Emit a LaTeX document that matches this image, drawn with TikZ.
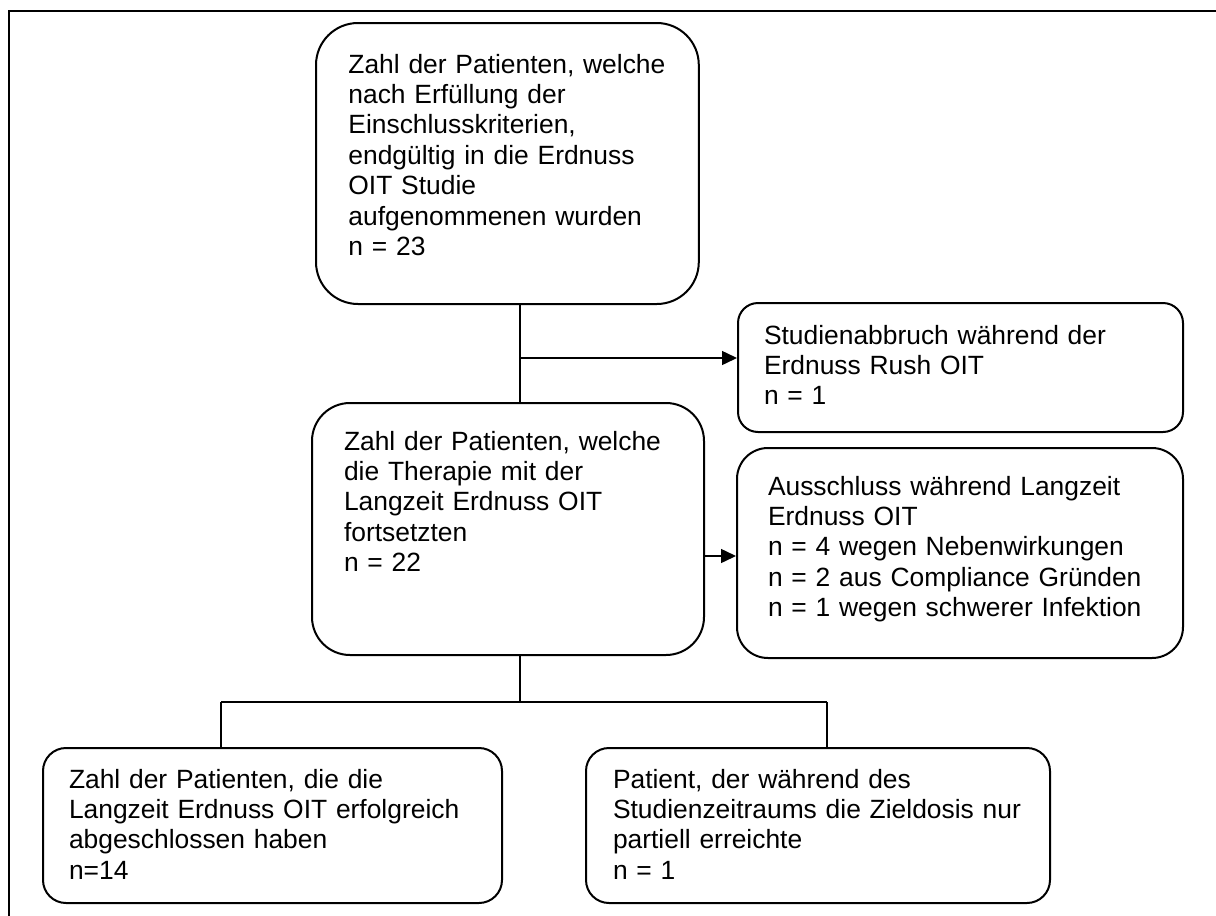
\documentclass[tikz,border=0pt]{standalone}
\usepackage{fontspec}
\setmainfont{Liberation Sans}
\usepackage{tikz}
\usetikzlibrary{arrows.meta, calc}
\tikzstyle{patbox} = [rectangle, draw, line width=1pt, align=left,
    inner ysep=0pt, anchor=north west, font=\fontsize{13.2}{15.2}\selectfont]
\tikzstyle{link} = [draw, line width=0.75pt]
\tikzstyle{arrowline} = [draw, line width=0.75pt, -{Triangle[length=7.5pt, width=7pt]}]

\begin{document}
\begin{tikzpicture}[x=0.5pt, y=-0.5pt]
    \useasboundingbox (0,0) rectangle (1216,916);
    % Frame
    \draw[line width=1pt] (9,916) -- (9,11) -- (1216,11);

    % Nodes
    \node [patbox, rounded corners=21pt, text width=159pt, inner xsep=16.2pt,
           text height=25pt, text depth=115.5pt] (included) at (315,22)
          {Zahl der Patienten, welche\\ nach Erfüllung der\\ Einschlusskriterien,\\
           endgültig in die Erdnuss\\ OIT Studie\\ aufgenommenen wurden\\ n = 23};
    \node [patbox, rounded corners=19pt, text width=164pt, inner xsep=16pt,
           text height=23.5pt, text depth=102.5pt] (continued) at (311,402)
          {Zahl der Patienten, welche\\ die Therapie mit der\\ Langzeit Erdnuss OIT\\
           fortsetzten\\ n = 22};
    \node [patbox, rounded corners=10pt, text width=196.5pt, inner xsep=13pt,
           text height=20.5pt, text depth=44pt] (dropout) at (737,302)
          {Studienabbruch während der\\ Erdnuss Rush OIT\\ n = 1};
    \node [patbox, rounded corners=15.5pt, text width=192pt, inner xsep=15.5pt,
           text height=23.5pt, text depth=81.5pt] (excluded) at (736,447)
          {Ausschluss während Langzeit\\ Erdnuss OIT\\ n = 4 wegen Nebenwirkungen\\
           n = 2 aus Compliance Gründen\\ n = 1 wegen schwerer Infektion};
    \node [patbox, rounded corners=11.5pt, text width=203.5pt, inner xsep=13pt,
           text height=20pt, text depth=57.5pt] (completed) at (42,747)
          {Zahl der Patienten, die die\\ Langzeit Erdnuss OIT erfolgreich\\
           abgeschlossen haben\\ n=14};
    \node [patbox, rounded corners=11.5pt, text width=205pt, inner xsep=13.5pt,
           text height=20pt, text depth=57.5pt] (partial) at (585,747)
          {Patient, der während des\\ Studienzeitraums die Zieldosis nur\\
           partiell erreichte\\ n = 1};

    % Coordinates
    \coordinate (trunk) at (520,0);
    \coordinate (fork1) at (520,358);
    \coordinate (fork2) at (703,556);
    \coordinate (split) at (520,702);
    \coordinate (leftleg) at (221,702);
    \coordinate (rightleg) at (827,702);

    % Edges
    \path [link] (trunk |- included.south) -- (trunk |- continued.north);
    \path [arrowline] (fork1) -- (fork1 -| dropout.west);
    \path [arrowline] (fork2) -- (fork2 -| excluded.west);
    \path [link] (trunk |- continued.south) -- (split);
    \path [link] (leftleg) -- (rightleg);
    \path [link] (leftleg) -- (leftleg |- completed.north);
    \path [link] (rightleg) -- (rightleg |- partial.north);
\end{tikzpicture}
\end{document}
